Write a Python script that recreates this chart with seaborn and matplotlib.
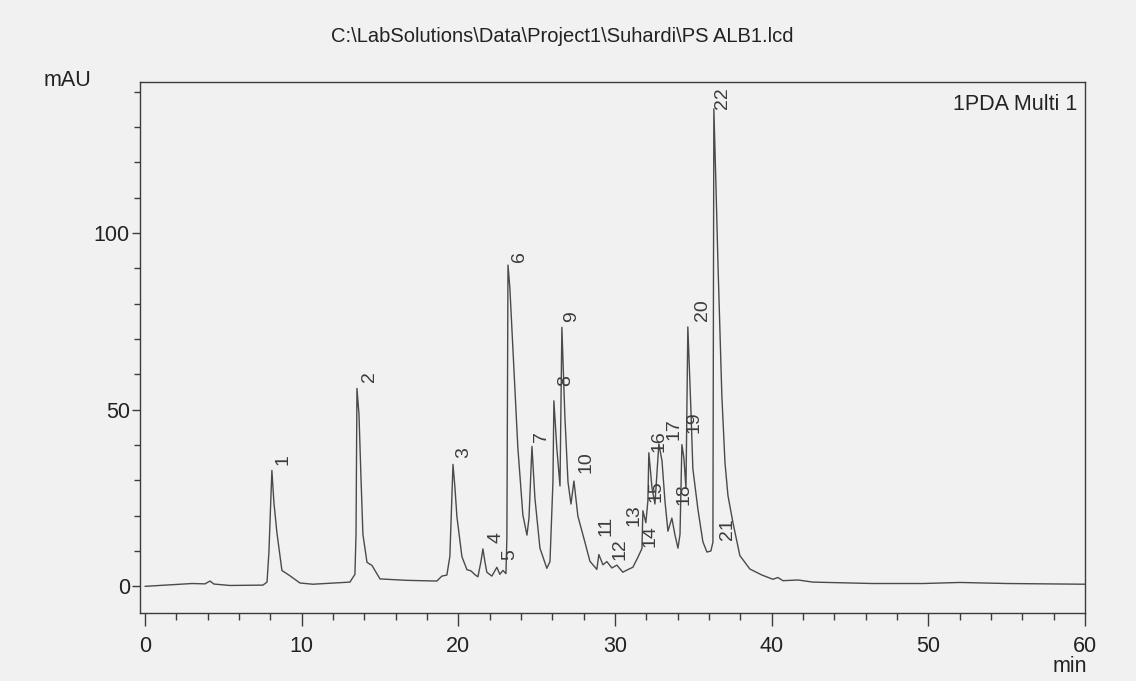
import matplotlib
matplotlib.use("Agg")
import matplotlib.pyplot as plt
from matplotlib.ticker import MultipleLocator
import pandas as pd
import seaborn as sns

sns.set_theme(style="ticks")
plt.rcParams['font.family'] = ['Liberation Sans', 'DejaVu Sans']

# chromatogram trace (retention time in min, signal in mAU)
time_min = [0.0, 3.0, 3.83, 4.15, 4.40, 5.42, 7.53, 7.79, 7.91, 8.10, 8.23, 8.42, 8.74, 9.25,
            9.89, 10.72, 13.08, 13.40, 13.47, 13.53, 13.66, 13.78, 13.91, 14.17, 14.49, 15.0,
            16.72, 18.63, 18.95, 19.27, 19.46, 19.66, 19.78, 19.91, 20.23, 20.55, 20.80, 21.06,
            21.25, 21.44, 21.57, 21.70, 21.82, 22.14, 22.46, 22.65, 22.85, 23.04, 23.10, 23.17,
            23.29, 23.48, 23.80, 24.12, 24.38, 24.51, 24.70, 24.89, 25.21, 25.65, 25.85, 26.04,
            26.10, 26.29, 26.49, 26.61, 26.80, 27.0, 27.19, 27.38, 27.63, 28.08, 28.40, 28.84,
            28.97, 29.23, 29.48, 29.80, 30.12, 30.50, 30.76, 31.14, 31.46, 31.72, 31.78, 31.97,
            32.10, 32.16, 32.36, 32.55, 32.80, 33.0, 33.19, 33.38, 33.63, 33.82, 34.02, 34.15,
            34.27, 34.40, 34.53, 34.65, 34.85, 34.97, 35.29, 35.61, 35.87, 36.12, 36.25, 36.31,
            36.44, 36.57, 36.82, 37.02, 37.21, 37.53, 37.97, 38.61, 39.38, 40.08, 40.40, 40.72,
            41.68, 42.63, 46.46, 49.65, 52.01, 55.01, 60.0]
signal_mau = [0.0, 0.8, 0.7, 1.5, 0.65, 0.25, 0.35, 1.2, 9.6, 32.8, 23.7, 15.2, 4.5, 3.0,
              0.95, 0.6, 1.2, 3.4, 14.7, 56.0, 48.6, 31.6, 14.7, 6.8, 5.9, 2.1,
              1.7, 1.5, 2.9, 3.2, 8.5, 34.5, 28.2, 19.7, 8.4, 4.7, 4.4, 3.3,
              2.7, 6.9, 10.6, 6.9, 4.0, 2.9, 5.4, 3.4, 4.5, 3.6, 13.8, 90.9,
              84.4, 67.4, 39.2, 20.2, 14.5, 19.3, 39.6, 24.9, 10.8, 5.1, 7.0, 29.6,
              52.5, 38.9, 28.4, 73.3, 48.2, 29.5, 23.3, 29.8, 19.9, 12.5, 7.1, 4.8,
              9.0, 6.1, 7.0, 5.2, 6.0, 4.0, 4.6, 5.4, 8.2, 10.7, 21.4, 18.0,
              24.2, 37.8, 27.9, 23.3, 40.3, 35.5, 24.1, 15.6, 19.3, 14.7, 10.8, 14.7,
              40.1, 36.2, 27.7, 73.4, 49.4, 33.3, 21.9, 12.6, 9.7, 10.0, 12.5, 135.1,
              114.2, 91.6, 54.0, 35.0, 25.7, 18.0, 8.7, 4.9, 3.2, 2.0, 2.5, 1.6,
              1.8, 1.2, 0.8, 0.8, 1.1, 0.8, 0.6]

# peak numbers and where their labels sit
peak_ids = [str(i) for i in range(1, 23)]
label_rt = [8.81, 14.36, 20.36, 22.40, 23.29, 23.93, 25.34, 26.87, 27.25, 28.14, 29.40,
            30.35, 31.20, 32.23, 32.61, 32.82, 33.78, 34.40, 35.05, 35.61, 37.15, 36.89]
label_mau = [35.8, 59.3, 37.8, 13.9, 9.0, 93.4, 42.4, 58.1, 76.4, 35.1, 17.0,
             10.6, 20.2, 14.3, 27.0, 41.1, 44.4, 26.0, 46.5, 78.1, 16.1, 138.2]

df = pd.DataFrame({'time': time_min, 'mAU': signal_mau})

paper = '#f1f1f1'
ink = '#3c3c3c'
text_ink = '#222222'

fig = plt.figure(figsize=(11.36, 6.81), dpi=100, facecolor=paper)
ax = fig.add_axes([139.5 / 1136, 1 - 612.5 / 681, (1085 - 139.5) / 1136, (612.5 - 82) / 681])
ax.set_facecolor(paper)

sns.lineplot(data=df, x='time', y='mAU', ax=ax, color='#4a4a4a', linewidth=1.0,
             estimator=None, sort=False)

for pid, rt, h in zip(peak_ids, label_rt, label_mau):
    ax.text(rt, h, pid, rotation=90, ha='center', va='center', fontsize=14, color=ink)

ax.set_xlim(-0.35, 60)
ax.set_ylim(-7.4, 142.7)
ax.set_xlabel('')
ax.set_ylabel('')

ax.xaxis.set_major_locator(MultipleLocator(10))
ax.xaxis.set_minor_locator(MultipleLocator(2))
ax.yaxis.set_major_locator(MultipleLocator(50))
ax.yaxis.set_minor_locator(MultipleLocator(10))
ax.tick_params(axis='x', which='major', length=9, width=1, color=ink, pad=8,
               labelsize=15.5, labelcolor=text_ink)
ax.tick_params(axis='x', which='minor', length=5, width=1, color=ink)
ax.tick_params(axis='y', which='major', length=6, width=1, color=ink, pad=1,
               labelsize=15.5, labelcolor=text_ink)
ax.tick_params(axis='y', which='minor', length=4, width=1, color=ink)

for side in ['top', 'right', 'left', 'bottom']:
    ax.spines[side].set_visible(True)
    ax.spines[side].set_color(ink)
    ax.spines[side].set_linewidth(1.0)

ax.text(0.992, 0.958, '1PDA Multi 1', transform=ax.transAxes, ha='right', va='center',
        fontsize=15.5, color=text_ink)
fig.text(67 / 1136, 1 - 80 / 681, 'mAU', ha='center', va='center', fontsize=15.5, color=text_ink)
fig.text(1070 / 1136, 1 - 666 / 681, 'min', ha='center', va='center', fontsize=15.5, color=text_ink)
fig.text(562 / 1136, 1 - 37 / 681, 'C:\\LabSolutions\\Data\\Project1\\Suhardi\\PS ALB1.lcd',
         ha='center', va='center', fontsize=14.5, color=text_ink)

fig.savefig('out.png', dpi=100, facecolor=paper)
